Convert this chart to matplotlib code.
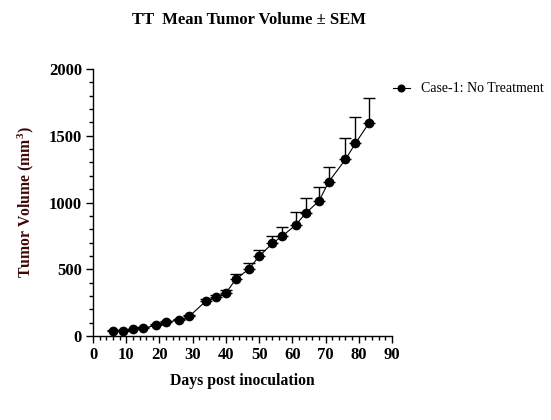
import numpy as np
import matplotlib
matplotlib.use('Agg')
from matplotlib import pyplot as plt
from matplotlib.ticker import MultipleLocator

days = [6, 9, 12, 15, 19, 22, 26, 29, 34, 37, 40, 43, 47,
        50, 54, 57, 61, 64, 68, 71, 76, 79, 83]
mean_volume = [40, 41, 50, 57, 80, 105, 118, 148, 262, 290, 322, 425, 504,
               597, 694, 749, 831, 919, 1011, 1156, 1323, 1443, 1593]
sem_volume = [5, 5, 6, 7, 8, 10, 10, 12, 15, 18, 20, 37, 40,
              45, 55, 65, 96, 112, 107, 112, 158, 195, 187]

series_label = 'Case-1: No Treatment'
title = 'TT  Mean Tumor Volume \u00b1 SEM'
x_label = 'Days post inoculation'
y_label = 'Tumor Volume (mm$^3$)'

plt.rcParams['font.family'] = ['Liberation Serif', 'DejaVu Serif']
plt.rcParams['mathtext.fontset'] = 'custom'
plt.rcParams['mathtext.rm'] = 'Liberation Serif:bold'
plt.rcParams['mathtext.it'] = 'Liberation Serif:bold'
plt.rcParams['mathtext.bf'] = 'Liberation Serif:bold'

fig = plt.figure(figsize=(5.51, 4.2), dpi=100)
ax = fig.add_axes([93 / 551, 84 / 420, 299 / 551, 267 / 420])

# one-sided (upper) error bars, GraphPad style
ax.errorbar(days, mean_volume, yerr=[np.zeros(len(sem_volume)), sem_volume],
            fmt='none', ecolor='black', elinewidth=1.0, capsize=4, capthick=1.0)
ax.plot(days, mean_volume, color='black', lw=0.8, marker='o', ms=6,
        label=series_label)

ax.set_xlim(0, 90)
ax.set_ylim(0, 2000)
ax.xaxis.set_major_locator(MultipleLocator(10))
ax.xaxis.set_minor_locator(MultipleLocator(2))
ax.yaxis.set_major_locator(MultipleLocator(500))
ax.yaxis.set_minor_locator(MultipleLocator(100))

for side in ['top', 'right']:
    ax.spines[side].set_visible(False)
for side in ['left', 'bottom']:
    ax.spines[side].set_linewidth(1.0)

ax.tick_params(which='major', length=5, width=1.0, labelsize=12, pad=3)
ax.tick_params(which='minor', length=3, width=1.0)
for lbl in ax.get_xticklabels() + ax.get_yticklabels():
    lbl.set_fontweight('bold')

fig.text(242 / 551, 1 - 381 / 420, x_label, ha='center', va='center',
         fontsize=11.3, fontweight='bold')
fig.text(26 / 551, 1 - 202 / 420, y_label, ha='center', va='center',
         rotation=90, fontsize=11.3, fontweight='bold', color='#3d0808')

fig.text(249 / 551, 1 - 20 / 420, title, ha='center', va='center',
         fontsize=12, fontweight='bold')

leg = fig.legend(loc='center left', bbox_to_anchor=(393 / 551, 1 - 89 / 420),
                 frameon=False, borderpad=0, borderaxespad=0,
                 handlelength=1.2, handletextpad=0.8, fontsize=10,
                 markerscale=0.8)

fig.savefig('out.png', dpi=100)
